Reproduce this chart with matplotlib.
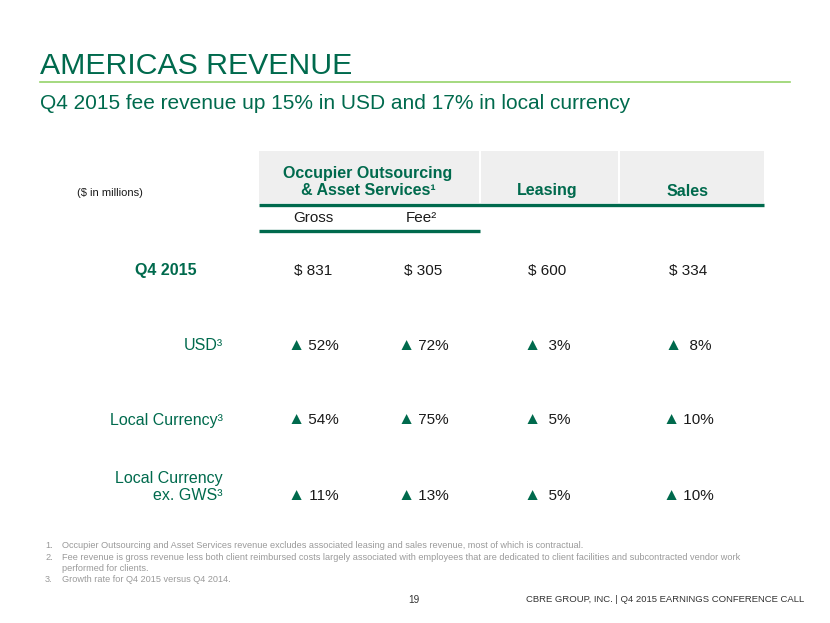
import matplotlib
matplotlib.use("Agg")
import matplotlib.pyplot as plt
from matplotlib.patches import Rectangle
from matplotlib.offsetbox import TextArea, HPacker, AnnotationBbox

plt.rcParams['font.family'] = ['Liberation Sans', 'DejaVu Sans']

# data
title = "AMERICAS REVENUE"
subtitle = "Q4 2015 fee revenue up 15% in USD and 17% in local currency"
group_headers = ["Occupier Outsourcing\n& Asset Services¹", "Leasing", "Sales"]
sub_headers = ["Gross", "Fee²"]
row_labels = ["Q4 2015", "USD³", "Local Currency³", "Local Currency\nex. GWS³"]
q4_revenue = [831, 305, 600, 334]
usd_growth = [52, 72, 3, 8]
local_growth = [54, 75, 5, 10]
local_ex_gws_growth = [11, 13, 5, 10]
footnotes = [
    "Occupier Outsourcing and Asset Services revenue excludes associated leasing and sales revenue, most of which is contractual.",
    "Fee revenue is gross revenue less both client reimbursed costs largely associated with employees that are dedicated to client facilities and subcontracted vendor work\nperformed for clients.",
    "Growth rate for Q4 2015 versus Q4 2014.",
]
page_no = "19"
footer = "CBRE GROUP, INC. | Q4 2015 EARNINGS CONFERENCE CALL"

GREEN = '#006A4D'
LIGHT_GREEN = '#95D36A'
GRAY_BOX = '#EFEFEF'
TXT = '#1A1A1A'
NOTE = '#9A9A9A'

fig = plt.figure(figsize=(8.3, 6.23), dpi=100)
ax = fig.add_axes([0, 0, 1, 1])
ax.set_xlim(0, 830)
ax.set_ylim(623, 0)
ax.axis('off')

# title block
ax.text(40, 74, title, fontsize=21.8, color=GREEN, ha='left', va='baseline')
ax.plot([40, 790], [82, 82], color=LIGHT_GREEN, lw=1.2)
ax.text(40, 109, subtitle, fontsize=15, color=GREEN, ha='left', va='baseline')

# header boxes
col_x = [313, 423, 547, 688]
box_spans = [(259, 479), (481, 618), (620, 764)]
for x0, x1 in box_spans:
    ax.add_patch(Rectangle((x0, 151), x1 - x0, 52, facecolor=GRAY_BOX, edgecolor='none'))
ax.plot([259, 764], [204.5, 204.5], color=GREEN, lw=2.4, solid_capstyle='butt')
ax.plot([259, 480], [231, 231], color=GREEN, lw=2.4, solid_capstyle='butt')

ax.text(368, 182, group_headers[0], fontsize=11.5, fontweight='bold', color=GREEN,
        ha='center', va='center', linespacing=1.2)
ax.text(col_x[2], 191, group_headers[1], fontsize=11.5, fontweight='bold', color=GREEN,
        ha='center', va='center')
ax.text(col_x[3], 191, group_headers[2], fontsize=11.5, fontweight='bold', color=GREEN,
        ha='center', va='center')
ax.text(110, 193, "($ in millions)", fontsize=8, color=TXT, ha='center', va='center')

ax.text(col_x[0], 218, sub_headers[0], fontsize=11, color=TXT, ha='center', va='center')
ax.text(col_x[1] - 2, 218, sub_headers[1], fontsize=11, color=TXT, ha='center', va='center')

# rows
row_y = [271, 346, 420, 487]
label_right = [197, 223, 223, 223]
for i, lab in enumerate(row_labels):
    ax.text(label_right[i], row_y[i], lab, fontsize=11.5, color=GREEN,
            fontweight='bold' if i == 0 else 'normal',
            ha='right', va='center', multialignment='right', linespacing=1.15)

val_y = [271, 346, 420, 496]
for x, v in zip(col_x, q4_revenue):
    ax.text(x, val_y[0], f"$ {v}", fontsize=11, color=TXT, ha='center', va='center')


def growth_cell(x, y, v):
    tri = TextArea("▲", textprops=dict(color=GREEN, fontsize=12.5))
    val = TextArea(f" {v:>2}%", textprops=dict(color=TXT, fontsize=11))
    box = HPacker(children=[tri, val], align='baseline', pad=0, sep=0)
    ab = AnnotationBbox(box, (x, y), xycoords='data', frameon=False,
                        box_alignment=(0.5, 0.5), pad=0)
    ax.add_artist(ab)


for series, y in zip([usd_growth, local_growth, local_ex_gws_growth], val_y[1:]):
    for x, v in zip(col_x, series):
        growth_cell(x, y, v)

# footnotes
fn_y = [545, 557, 580]
for i, (y, note) in enumerate(zip(fn_y, footnotes)):
    ax.text(45, y, f"{i + 1}.", fontsize=6.6, color=NOTE, ha='left', va='center')
    for j, line in enumerate(note.split('\n')):
        ax.text(62, y + j * 11.5, line, fontsize=6.6, color=NOTE, ha='left', va='center')

ax.text(414, 600, page_no, fontsize=7.2, color='#333333', ha='center', va='center')
ax.text(804, 600, footer, fontsize=6.8, color='#333333', ha='right', va='center')

fig.savefig("out.png", dpi=100)
